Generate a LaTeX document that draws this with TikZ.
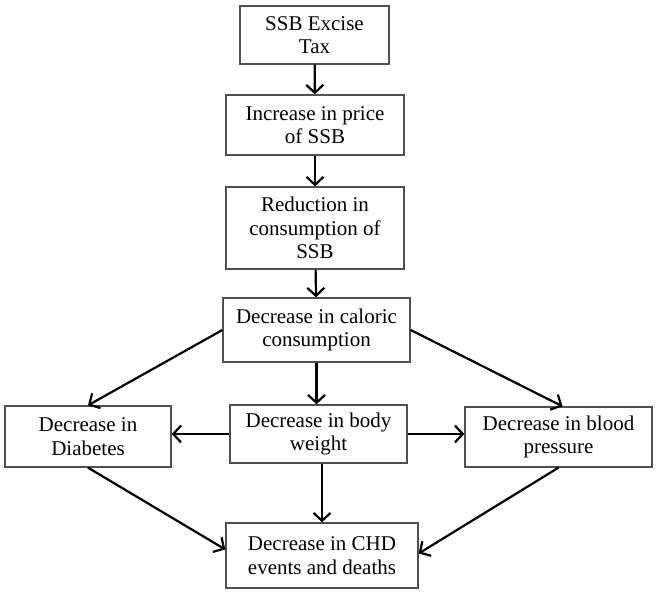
\documentclass[tikz,border=0pt]{standalone}
\usepackage{fontspec}
\setmainfont{Liberation Serif}
\usepackage{tikz}
\usetikzlibrary{arrows.meta}
\definecolor{bg}{HTML}{FFFFFF}
\definecolor{edge}{HTML}{505050}
\definecolor{ink}{HTML}{000000}
\tikzset{
  box/.style={draw=edge, line width=1.3pt, fill=bg, align=center, inner sep=0pt, text=ink, font=\fontsize{21}{23.5}\selectfont},
  link/.style={draw=ink, line width=2.2pt, -{Straight Barb[length=8pt,width=17pt,line width=2.2pt]}},
}

\begin{document}
\begin{tikzpicture}[x=1pt,y=-1pt]
  \useasboundingbox[fill=bg] (0,0) rectangle (658,596);

  \node[box, minimum width=149pt, minimum height=58pt] (tax)  at (314.5,35)  {SSB Excise\\Tax};
  \node[box, minimum width=178pt, minimum height=60pt] (price) at (315,125)  {Increase in price\\of SSB};
  \node[box, minimum width=178pt, minimum height=82pt] (cons) at (315,228)   {Reduction in\\consumption of\\SSB};
  \node[box, minimum width=187pt, minimum height=64pt] (cal)  at (316.5,330) {Decrease in caloric\\consumption};
  \node[box, minimum width=166pt, minimum height=61pt] (diab) at (88,436.5)  {Decrease in\\Diabetes};
  \node[box, minimum width=177pt, minimum height=58pt] (body) at (318.5,434) {Decrease in body\\weight};
  \node[box, minimum width=187pt, minimum height=60pt] (bp)   at (558.5,437) {Decrease in blood\\pressure};
  \node[box, minimum width=192pt, minimum height=65pt] (chd)  at (322,555.5) {Decrease in CHD\\events and deaths};

  % chain down the middle
  \draw[link] (tax) -- (price);
  \draw[link] (price) -- (cons);
  \draw[link] (cons) -- (cal);
  \draw[link] (cal.south) -- (cal.south |- body.north);

  % fan out
  \draw[link] (cal.west) -- (diab.north);
  \draw[link] (cal.east) -- ([xshift=4pt]bp.north);
  \draw[link] (body.west) -- (body.west -| diab.east);
  \draw[link] (body.east) -- (body.east -| bp.west);

  % into CHD
  \draw[link] (body.south -| chd.north) -- (chd.north);
  \draw[link] (diab.south) -- ([yshift=6pt]chd.west);
  \draw[link] (bp.south) -- ([yshift=2pt]chd.east);
\end{tikzpicture}
\end{document}
